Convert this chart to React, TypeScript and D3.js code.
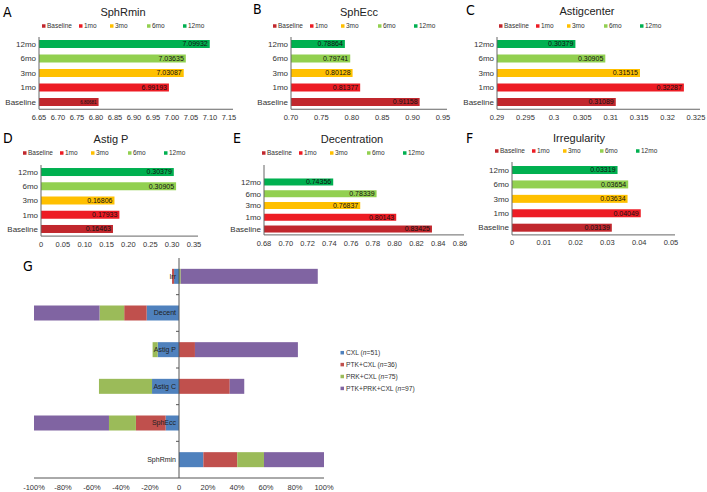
import React, { useEffect, useRef } from 'react';
import * as d3 from 'd3';

// time points shared by panels A-F
const periods = ['Baseline', '1mo', '3mo', '6mo', '12mo'];
const periodColors = ['#C1272D', '#ED1C24', '#FFC000', '#92D050', '#00B050'];

const sphRminValues = [6.80681, 6.99193, 7.03087, 7.03635, 7.09932];
const sphEccValues = [0.91158, 0.81377, 0.80128, 0.79741, 0.78864];
const astigCenterValues = [0.31089, 0.32287, 0.31515, 0.30905, 0.30379];
const astigPValues = [0.16463, 0.17933, 0.16806, 0.30905, 0.30379];
const decentrationValues = [0.83425, 0.80143, 0.76837, 0.78339, 0.74356];
const irregularityValues = [0.03139, 0.04049, 0.03634, 0.03654, 0.03319];

const sphRminTicks = ['6.65', '6.70', '6.75', '6.80', '6.85', '6.90', '6.95', '7.00', '7.05', '7.10', '7.15'];
const sphEccTicks = ['0.70', '0.75', '0.80', '0.85', '0.90', '0.95'];
const astigCenterTicks = ['0.29', '0.295', '0.3', '0.305', '0.31', '0.315', '0.32', '0.325'];
const astigPTicks = ['0', '0.05', '0.10', '0.15', '0.20', '0.25', '0.30', '0.35'];
const decentrationTicks = ['0.68', '0.70', '0.72', '0.74', '0.76', '0.78', '0.80', '0.82', '0.84', '0.86'];
const irregularityTicks = ['0', '0.01', '0.02', '0.03', '0.04', '0.05'];

// panel G (bottom to top)
const gCategories = ['SphRmin', 'SphEcc', 'Astig C', 'Astig P', 'Decent', 'Irr'];
const groupNames = ['CXL', 'PTK+CXL', 'PRK+CXL', 'PTK+PRK+CXL'];
const groupN = [51, 36, 75, 97];
const groupColors = ['#4F81BD', '#C0504D', '#9BBB59', '#8064A2'];
const cxlShare = [0.168, -0.092, -0.186, -0.147, -0.223, -0.034];
const ptkCxlShare = [0.234, -0.205, 0.35, 0.11, -0.155, -0.014];
const prkCxlShare = [0.184, -0.186, -0.366, -0.035, -0.17, 0.012];
const ptkPrkCxlShare = [0.414, -0.517, 0.1, 0.71, -0.452, 0.945];
const gTicks = ['-100%', '-80%', '-60%', '-40%', '-20%', '0', '20%', '40%', '60%', '80%', '100%'];

const panels = [
  { letter: 'A', title: 'SphRmin', values: sphRminValues, ticks: sphRminTicks, xr: [39, 229], band: [36.75, 109.25], axisTop: 37, barH: 8, titleX: 123, titleY: 12, letterX: 3, letterY: 12, legendX: 42, legendY: 26, tickY: 117 },
  { letter: 'B', title: 'SphEcc', values: sphEccValues, ticks: sphEccTicks, xr: [291, 443], band: [36.75, 109.25], axisTop: 37, barH: 8, titleX: 359, titleY: 12, letterX: 253, letterY: 9, legendX: 273, legendY: 26, tickY: 117 },
  { letter: 'C', title: 'Astigcenter', values: astigCenterValues, ticks: astigCenterTicks, xr: [497, 696], band: [36.75, 109.25], axisTop: 37, barH: 8, titleX: 587, titleY: 11, letterX: 466, letterY: 10, legendX: 499, legendY: 26, tickY: 117 },
  { letter: 'D', title: 'Astig P', values: astigPValues, ticks: astigPTicks, xr: [41, 194], band: [164.9, 236.1], axisTop: 165, barH: 8, titleX: 111, titleY: 139, letterX: 3, letterY: 138, legendX: 23, legendY: 153, tickY: 244 },
  { letter: 'E', title: 'Decentration', values: decentrationValues, ticks: decentrationTicks, xr: [264, 460], band: [176.1, 234.9], axisTop: 165, barH: 7, titleX: 352, titleY: 139, letterX: 233, letterY: 138, legendX: 262, legendY: 153, tickY: 243 },
  { letter: 'F', title: 'Irregularity', values: irregularityValues, ticks: irregularityTicks, xr: [512, 671], band: [162.8, 234.9], axisTop: 162, barH: 8, titleX: 579, titleY: 138, letterX: 466, letterY: 138, legendX: 495, legendY: 151, tickY: 242 },
];

const legendOffsets = [0, 37, 68, 105, 141];

const font = "'Liberation Sans', Arial, sans-serif";
const letterFont = "'Liberation Sans Narrow', 'DejaVu Sans Condensed', sans-serif";

const App = () => {
  const svgRef = useRef<SVGSVGElement>(null);

  useEffect(() => {
    const svg = d3.select(svgRef.current);
    svg.selectAll('*').remove();
    svg.style('font-family', font);

    panels.forEach((p) => {
      const g = svg.append('g');
      const x0 = p.xr[0];
      const x = d3.scaleLinear()
        .domain([+p.ticks[0], +p.ticks[p.ticks.length - 1]])
        .range(p.xr);
      const y = d3.scaleBand().domain([...periods].reverse()).range(p.band as [number, number]);
      const cy = (i: number) => (y(periods[i]) as number) + y.bandwidth() / 2;

      g.append('text').attr('x', p.letterX).attr('y', p.letterY).attr('dy', '0.35em')
        .style('font-family', letterFont).style('font-size', '14px').text(p.letter);
      g.append('text').attr('x', p.titleX).attr('y', p.titleY).attr('dy', '0.35em')
        .attr('text-anchor', 'middle').style('font-size', '11px').attr('fill', '#222').text(p.title);

      // legend
      periods.forEach((name, i) => {
        g.append('rect').attr('x', p.legendX + legendOffsets[i]).attr('y', p.legendY - 1.75)
          .attr('width', 3.5).attr('height', 3.5).attr('fill', periodColors[i]);
        g.append('text').attr('x', p.legendX + legendOffsets[i] + 5).attr('y', p.legendY).attr('dy', '0.35em')
          .style('font-size', '6.5px').attr('fill', '#333').text(name);
      });

      // bars
      g.selectAll('.bar').data(p.values).join('rect')
        .attr('x', x0)
        .attr('y', (d, i) => cy(i) - p.barH / 2)
        .attr('width', (d) => x(d) - x0)
        .attr('height', p.barH)
        .attr('fill', (d, i) => periodColors[i]);

      g.selectAll('.val').data(p.values).join('text')
        .attr('x', (d) => x(d) - 2)
        .attr('y', (d, i) => cy(i))
        .attr('dy', '0.35em')
        .attr('text-anchor', 'end')
        .style('font-size', (d, i) => (p.letter === 'A' && i === 0 ? '4.5px' : '7px'))
        .attr('fill', '#111')
        .text((d) => d3.format('.5f')(d));

      g.selectAll('.cat').data(periods).join('text')
        .attr('x', x0 - 3)
        .attr('y', (d, i) => cy(i))
        .attr('dy', '0.35em')
        .attr('text-anchor', 'end')
        .style('font-size', '8px')
        .attr('fill', '#333')
        .text((d) => d);

      // axes
      const yBottom = p.band[1];
      g.append('line').attr('x1', x0).attr('x2', x0).attr('y1', p.axisTop).attr('y2', yBottom)
        .attr('stroke', '#666').attr('stroke-width', 1);
      g.append('line').attr('x1', x0).attr('x2', p.xr[1] + 4).attr('y1', yBottom).attr('y2', yBottom)
        .attr('stroke', '#666').attr('stroke-width', 1);

      g.selectAll('.tick').data(p.ticks).join('text')
        .attr('x', (d) => x(+d))
        .attr('y', p.tickY)
        .attr('dy', '0.35em')
        .attr('text-anchor', 'middle')
        .style('font-size', '7.5px')
        .attr('fill', '#333')
        .text((d) => d);
    });

    // ---- panel G ----
    const gG = svg.append('g');
    const rows = gCategories.map((c, i) => ({
      cat: c,
      [groupNames[0]]: cxlShare[i],
      [groupNames[1]]: ptkCxlShare[i],
      [groupNames[2]]: prkCxlShare[i],
      [groupNames[3]]: ptkPrkCxlShare[i],
    }));
    const series = d3.stack<any>().keys(groupNames).offset(d3.stackOffsetDiverging)(rows);

    const xG = d3.scaleLinear().domain([-1, 1]).range([34, 324]);
    const yG = d3.scaleBand().domain([...gCategories].reverse()).range([258, 478]);
    const barH = 15;

    gG.append('text').attr('x', 23).attr('y', 266).attr('dy', '0.35em')
      .style('font-family', letterFont).style('font-size', '14px').text('G');

    gG.selectAll('.series').data(series).join('g')
      .attr('fill', (d, i) => groupColors[i])
      .selectAll('rect').data((d) => d).join('rect')
      .attr('x', (d) => xG(Math.min(d[0], d[1])))
      .attr('width', (d) => Math.abs(xG(d[1]) - xG(d[0])))
      .attr('y', (d) => (yG(d.data.cat) as number) + yG.bandwidth() / 2 - barH / 2)
      .attr('height', barH);

    // zero axis with category ticks
    gG.append('line').attr('x1', xG(0)).attr('x2', xG(0)).attr('y1', 258).attr('y2', 478)
      .attr('stroke', '#555').attr('stroke-width', 1);
    gG.selectAll('.ctick').data(gCategories.slice(0, gCategories.length - 1)).join('line')
      .attr('x1', xG(0) - 3).attr('x2', xG(0))
      .attr('y1', (d) => yG(d) as number).attr('y2', (d) => yG(d) as number)
      .attr('stroke', '#555');

    gG.selectAll('.clabel').data(gCategories).join('text')
      .attr('x', xG(0) - 3)
      .attr('y', (d) => (yG(d) as number) + yG.bandwidth() / 2)
      .attr('dy', '0.35em')
      .attr('text-anchor', 'end')
      .style('font-size', '7px')
      .attr('fill', '#222')
      .text((d) => d);

    gG.append('line').attr('x1', 34).attr('x2', 324).attr('y1', 478).attr('y2', 478)
      .attr('stroke', '#555').attr('stroke-width', 1);
    gG.selectAll('.gtick').data(gTicks).join('text')
      .attr('x', (d) => xG(parseFloat(d) / 100))
      .attr('y', 487)
      .attr('dy', '0.35em')
      .attr('text-anchor', 'middle')
      .style('font-size', '7.5px')
      .attr('fill', '#333')
      .text((d) => d);

    // legend G
    groupNames.forEach((name, i) => {
      const ly = 352.7 + i * 11.9;
      gG.append('rect').attr('x', 340.5).attr('y', ly - 1.75).attr('width', 3.5).attr('height', 3.5)
        .attr('fill', groupColors[i]);
      const t = gG.append('text').attr('x', 346).attr('y', ly).attr('dy', '0.35em')
        .style('font-size', '6.7px').attr('fill', '#333');
      t.append('tspan').text(`${name} (`);
      t.append('tspan').style('font-style', 'italic').text('n');
      t.append('tspan').text(`=${groupN[i]})`);
    });
  }, []);

  return (
    <svg
      ref={svgRef}
      width={707}
      height={492}
      style={{ position: 'absolute', left: 0, top: 0, background: '#fff' }}
    />
  );
};

export default App;
